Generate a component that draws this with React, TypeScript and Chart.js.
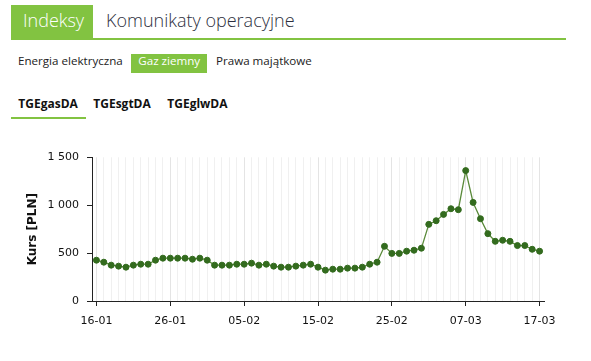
import React, { useEffect, useRef } from "react";
import { Chart, registerables } from "chart.js";

Chart.register(...registerables);

const dates: string[] = [
  "16-01", "17-01", "18-01", "19-01", "20-01", "21-01", "22-01", "23-01", "24-01", "25-01",
  "26-01", "27-01", "28-01", "29-01", "30-01", "31-01", "01-02", "02-02", "03-02", "04-02",
  "05-02", "06-02", "07-02", "08-02", "09-02", "10-02", "11-02", "12-02", "13-02", "14-02",
  "15-02", "16-02", "17-02", "18-02", "19-02", "20-02", "21-02", "22-02", "23-02", "24-02",
  "25-02", "26-02", "27-02", "28-02", "01-03", "02-03", "03-03", "04-03", "05-03", "06-03",
  "07-03", "08-03", "09-03", "10-03", "11-03", "12-03", "13-03", "14-03", "15-03", "16-03",
  "17-03",
];

const kurs: number[] = [
  426, 405, 374, 364, 353, 374, 384, 384, 426, 447,
  447, 447, 447, 436, 447, 426, 374, 374, 374, 384,
  384, 395, 374, 384, 364, 353, 353, 364, 374, 384,
  353, 322, 332, 332, 343, 343, 353, 384, 405, 571,
  497, 497, 520, 530, 551, 800, 838, 904, 963, 953,
  1361, 1029, 859, 703, 623, 634, 623, 579, 579, 540,
  520,
];

const yTicks: number[] = [0, 500, 1000, 1500];

const mainTabs: string[] = ["Indeksy", "Komunikaty operacyjne"];
const marketTabs: string[] = ["Energia elektryczna", "Gaz ziemny", "Prawa majątkowe"];
const indexTabs: string[] = ["TGEgasDA", "TGEsgtDA", "TGEglwDA"];

const GREEN = "#82c341";

function Txt(props: { x: number; base: number; size: number; weight?: number; color: string; children: React.ReactNode }) {
  const { x, base, size, weight = 400, color } = props;
  const lh = size * 1.362;
  return (
    <span
      style={{
        position: "absolute",
        left: x,
        top: base - size * 1.069,
        fontFamily: "'Open Sans', sans-serif",
        fontSize: size,
        fontWeight: weight,
        lineHeight: lh + "px",
        color,
        whiteSpace: "nowrap",
      }}
    >
      {props.children}
    </span>
  );
}

export default function App() {
  const ref = useRef<HTMLCanvasElement | null>(null);

  useEffect(() => {
    if (!ref.current) return;
    const points = kurs.map((v, i) => ({ x: i, y: v }));
    const chart = new Chart(ref.current, {
      type: "line",
      data: {
        datasets: [
          {
            data: points,
            borderColor: "#5a8a3a",
            borderWidth: 1.3,
            pointRadius: 3,
            pointBorderWidth: 1,
            pointBackgroundColor: "#336b1e",
            pointBorderColor: "#336b1e",
            tension: 0,
            fill: false,
          },
        ],
      },
      options: {
        animation: false,
        responsive: false,
        maintainAspectRatio: false,
        layout: { padding: { left: 0, right: 47, top: 17.3, bottom: 4 } },
        plugins: { legend: { display: false }, tooltip: { enabled: false } },
        scales: {
          x: {
            type: "linear",
            min: -0.6,
            max: 60.6,
            afterBuildTicks: (s: any) => {
              s.ticks = dates.map((_, i) => ({ value: i }));
            },
            afterFit: (s: any) => {
              s.height = 45;
            },
            grid: {
              color: (c: any) => (c.tick && c.tick.value % 10 === 0 ? "#e4e4e4" : "#f0f0f0"),
              tickColor: (c: any) => (c.tick && c.tick.value % 10 === 0 ? "#222" : "rgba(0,0,0,0)"),
              tickLength: 5,
              lineWidth: 1,
            },
            border: { color: "#222", width: 1 },
            ticks: {
              autoSkip: false,
              maxRotation: 0,
              padding: 9,
              color: "#111",
              font: { family: "'DejaVu Sans', Verdana, sans-serif", size: 11 },
              callback: (v: any) => {
                const i = Math.round(Number(v));
                return i % 10 === 0 ? dates[i] : "";
              },
            },
          },
          y: {
            min: 0,
            max: 1500,
            afterBuildTicks: (s: any) => {
              s.ticks = yTicks.map((v) => ({ value: v }));
            },
            afterFit: (s: any) => {
              s.width = 92;
            },
            grid: {
              drawOnChartArea: false,
              tickLength: 5,
              tickColor: "#222",
            },
            border: { color: "#222", width: 1 },
            ticks: {
              padding: 8,
              color: "#111",
              font: { family: "'DejaVu Sans', Verdana, sans-serif", size: 11 },
              callback: (v: any) => {
                const n = Number(v);
                return n >= 1000 ? Math.floor(n / 1000) + " " + String(n % 1000).padStart(3, "0") : String(n);
              },
            },
            title: {
              display: true,
              text: "Kurs [PLN]",
              color: "#111",
              padding: { top: 25.8, bottom: 0 },
              font: { family: "'DejaVu Sans', Verdana, sans-serif", size: 12, weight: "bold" },
            },
          },
        },
      },
    });
    return () => chart.destroy();
  }, []);

  return (
    <div style={{ position: "absolute", left: 0, top: 0, width: 591, height: 361, background: "#fff", overflow: "hidden" }}>
      <div style={{ position: "absolute", left: 11, top: 5, width: 82, height: 34, background: GREEN }} />
      <div style={{ position: "absolute", left: 11, top: 38, width: 555, height: 2, background: GREEN }} />
      <Txt x={23} base={27.7} size={18} weight={300} color="#fff">{mainTabs[0]}</Txt>
      <Txt x={106} base={27.7} size={18} weight={300} color="#2d2f40">{mainTabs[1]}</Txt>

      <div style={{ position: "absolute", left: 131, top: 54, width: 76, height: 19, background: GREEN }} />
      <Txt x={18} base={65.7} size={11.6} color="#222">{marketTabs[0]}</Txt>
      <Txt x={138.3} base={65.7} size={11.6} color="#fff">{marketTabs[1]}</Txt>
      <Txt x={216} base={65.7} size={11.6} color="#222">{marketTabs[2]}</Txt>

      <Txt x={18.3} base={109.3} size={12} weight={700} color="#111">{indexTabs[0]}</Txt>
      <Txt x={93.3} base={109.3} size={12} weight={700} color="#111">{indexTabs[1]}</Txt>
      <Txt x={167.3} base={109.3} size={12} weight={700} color="#111">{indexTabs[2]}</Txt>
      <div style={{ position: "absolute", left: 11, top: 116.5, width: 75, height: 2, background: GREEN }} />

      <canvas ref={ref} width={591} height={210} style={{ position: "absolute", left: 0, top: 140, width: 591, height: 210 }} />
    </div>
  );
}
